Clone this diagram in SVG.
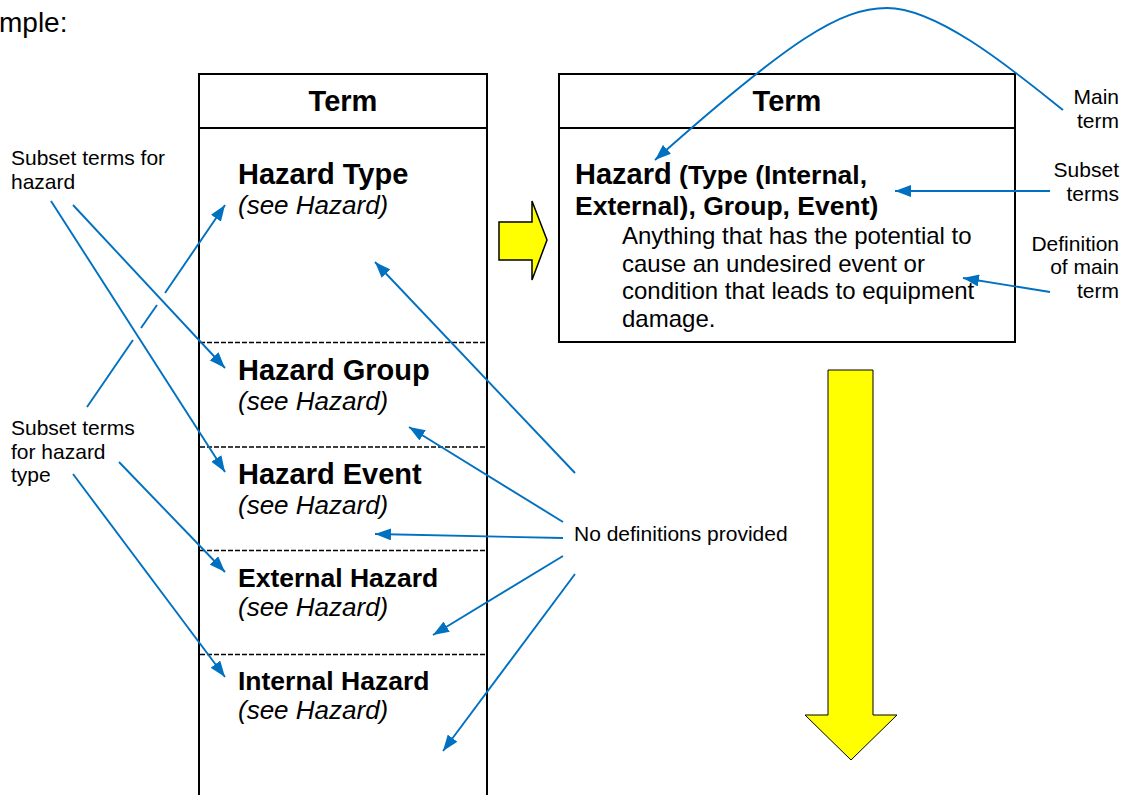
<svg xmlns="http://www.w3.org/2000/svg" width="1126" height="795" viewBox="0 0 1126 795">
  <style>
    .frame { fill: none; stroke: #000; stroke-width: 2; }
    .rule { stroke: #000; stroke-width: 2; }
    .dash { stroke: #000; stroke-width: 1.5; stroke-dasharray: 5 2; }
    .hdr { font-family: "Liberation Sans", Arial, sans-serif; font-weight: bold; font-size: 29px; fill: #000; text-anchor: middle; }
    .term { font-family: "Liberation Sans", Arial, sans-serif; font-weight: bold; font-size: 29px; fill: #000; }
    .term2 { font-family: "Liberation Sans", Arial, sans-serif; font-weight: bold; font-size: 26.5px; fill: #000; }
    .see { font-family: "Liberation Sans", Arial, sans-serif; font-style: italic; font-size: 26px; fill: #000; }
    .def { font-family: "Liberation Sans", Arial, sans-serif; font-size: 24px; fill: #000; }
    .head-text { font-family: "Liberation Sans", Arial, sans-serif; font-size: 28px; fill: #000; }
    .lbl { font-family: "Liberation Sans", Arial, sans-serif; font-size: 21px; fill: #000; }
    .lblr { font-family: "Liberation Sans", Arial, sans-serif; font-size: 21px; fill: #000; text-anchor: end; }
    .conn { fill: none; stroke: #0070C0; stroke-width: 1.9; }
    .arrow { fill: #FFFF00; stroke: #000; stroke-width: 1.5; stroke-linejoin: miter; }
  </style>
  <defs>
    <marker id="head" viewBox="0 0 16 12" refX="16" refY="6" markerWidth="16" markerHeight="12" markerUnits="userSpaceOnUse" orient="auto">
      <path d="M0,0 L16,6 L0,12 z" fill="#0070C0"/>
    </marker>
  </defs>

  <rect width="1126" height="795" fill="#fff"/>

  <!-- heading fragment -->
  <text class="head-text" x="-1" y="32">mple:</text>

  <!-- glossary column listing each subset term separately -->
  <g id="term-column">
    <path class="frame" d="M199,800 V74 H487 V800"/>
    <line class="rule" x1="199" y1="128" x2="487" y2="128"/>
    <text class="hdr" x="343" y="111">Term</text>
    <line class="dash" x1="200" y1="342.5" x2="486" y2="342.5"/>
    <line class="dash" x1="200" y1="447" x2="486" y2="447"/>
    <line class="dash" x1="200" y1="550.5" x2="486" y2="550.5"/>
    <line class="dash" x1="200" y1="654.5" x2="486" y2="654.5"/>
  </g>
  <g id="entry-hazard-type">
    <text class="term" x="238" y="184">Hazard Type</text>
    <text class="see" x="238" y="214">(see Hazard)</text>
  </g>
  <g id="entry-hazard-group">
    <text class="term" x="238" y="380">Hazard Group</text>
    <text class="see" x="238" y="410">(see Hazard)</text>
  </g>
  <g id="entry-hazard-event">
    <text class="term" x="238" y="484">Hazard Event</text>
    <text class="see" x="238" y="514">(see Hazard)</text>
  </g>
  <g id="entry-external-hazard">
    <text class="term2" x="238" y="587">External Hazard</text>
    <text class="see" x="238" y="616">(see Hazard)</text>
  </g>
  <g id="entry-internal-hazard">
    <text class="term2" x="238" y="690">Internal Hazard</text>
    <text class="see" x="238" y="719">(see Hazard)</text>
  </g>

  <!-- transformation arrow -->
  <g id="arrow-right">
    <polygon class="arrow" points="499,222 532,222 532,201 547,240 532,280 532,260 499,260"/>
  </g>

  <!-- consolidated glossary entry -->
  <g id="term-merged">
    <rect class="frame" x="559" y="74" width="456" height="268"/>
    <line class="rule" x1="559" y1="128" x2="1015" y2="128"/>
    <text class="hdr" x="787" y="111">Term</text>
    <text class="term" x="575" y="184">Hazard<tspan style="font-size:26.5px"> (Type (Internal,</tspan></text>
    <text class="term2" x="575" y="215">External), Group, Event)</text>
    <text class="def" x="622" y="244">Anything that has the potential to</text>
    <text class="def" x="622" y="272">cause an undesired event or</text>
    <text class="def" x="622" y="299">condition that leads to equipment</text>
    <text class="def" x="622" y="327">damage.</text>
  </g>

  <!-- downward arrow -->
  <g id="arrow-down">
    <polygon class="arrow" style="stroke-width:1" points="828,370 873,370 873,715 897,715 851,760 805,715 828,715"/>
  </g>

  <!-- callout labels -->
  <g id="label-subset-hazard">
    <text class="lbl" x="11" y="165">Subset terms for</text>
    <text class="lbl" x="11" y="189">hazard</text>
  </g>
  <g id="label-subset-hazard-type">
    <text class="lbl" x="11" y="435">Subset terms</text>
    <text class="lbl" x="11" y="459">for hazard</text>
    <text class="lbl" x="11" y="482">type</text>
  </g>
  <g id="label-no-definitions">
    <text class="lbl" x="574" y="541">No definitions provided</text>
  </g>
  <g id="label-main-term">
    <text class="lblr" x="1119" y="104">Main</text>
    <text class="lblr" x="1119" y="128">term</text>
  </g>
  <g id="label-subset-terms">
    <text class="lblr" x="1119" y="177">Subset</text>
    <text class="lblr" x="1119" y="201">terms</text>
  </g>
  <g id="label-definition">
    <text class="lblr" x="1119" y="251">Definition</text>
    <text class="lblr" x="1119" y="274">of main</text>
    <text class="lblr" x="1119" y="298">term</text>
  </g>

  <!-- callout connectors -->
  <g id="connectors">
    <line class="conn" x1="73" y1="205" x2="225" y2="368" marker-end="url(#head)"/>
    <line class="conn" x1="51" y1="201" x2="225" y2="472" marker-end="url(#head)"/>
    <polyline class="conn" points="87,407 133,340"/>
    <polyline class="conn" points="141,328 157,305"/>
    <line class="conn" x1="165" y1="293" x2="225" y2="205" marker-end="url(#head)"/>
    <line class="conn" x1="119" y1="462" x2="225" y2="572" marker-end="url(#head)"/>
    <line class="conn" x1="73" y1="474" x2="225" y2="677" marker-end="url(#head)"/>

    <line class="conn" x1="575" y1="473" x2="375" y2="262" marker-end="url(#head)"/>
    <line class="conn" x1="563" y1="522" x2="409" y2="427" marker-end="url(#head)"/>
    <line class="conn" x1="563" y1="538" x2="375" y2="534" marker-end="url(#head)"/>
    <line class="conn" x1="563" y1="556" x2="433" y2="635" marker-end="url(#head)"/>
    <line class="conn" x1="575" y1="574" x2="443" y2="751" marker-end="url(#head)"/>

    <path class="conn" d="M1063,110 C1020,76 940,8 887,8 C840,8 790,40 655,160" marker-end="url(#head)"/>
    <line class="conn" x1="1050" y1="191" x2="895" y2="191" marker-end="url(#head)"/>
    <line class="conn" x1="1050" y1="292" x2="963" y2="278" marker-end="url(#head)"/>
  </g>
</svg>
